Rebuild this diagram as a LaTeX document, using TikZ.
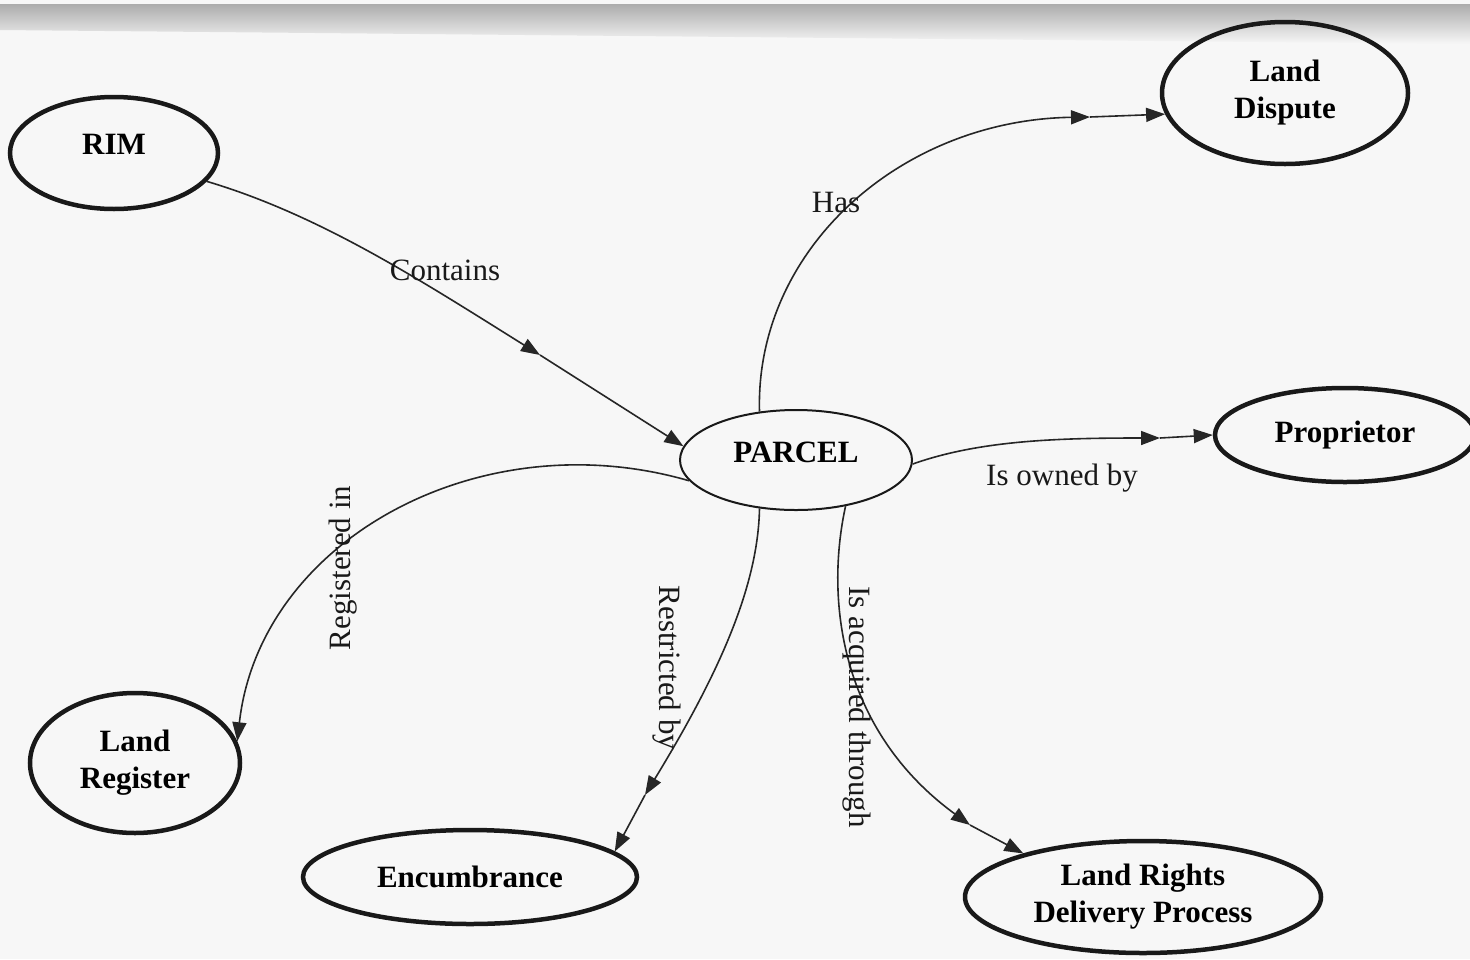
\documentclass[tikz,border=0pt]{standalone}
\usepackage{fontspec}
\setmainfont{Liberation Serif}
\usetikzlibrary{shapes.geometric,arrows.meta}

\begin{document}
\begin{tikzpicture}[x=1pt,y=-1pt,
  concept/.style={ellipse,draw=black!90,line width=4.5pt,inner sep=0pt,align=center,
    font=\fontsize{31}{37}\selectfont\bfseries,text=black},
  conn/.style={draw=black!85,line width=1.6pt,-{Triangle[length=19pt,width=14pt]}},
  lbl/.style={font=\fontsize{31}{37}\selectfont,text=black!90,inner sep=0pt}]
\useasboundingbox (0,0) rectangle (1470,959);
\fill[gray!6] (0,0) rectangle (1470,959);
% grey band along the top edge
\shade[top color=gray!65,bottom color=gray!6] (0,4) -- (1470,4) -- (1470,44) -- (0,30) -- cycle;

% concepts
\node[concept,minimum width=208pt,minimum height=112pt,text depth=18pt] (rim) at (114,153) {RIM};
\node[concept,minimum width=246pt,minimum height=142pt] (dispute) at (1285,93) {Land\\Dispute};
\node[concept,minimum width=260pt,minimum height=94pt] (prop) at (1345,435) {Proprietor};
\node[concept,line width=2pt,minimum width=232pt,minimum height=100pt,text depth=16pt] (parcel) at (796,460) {PARCEL};
\node[concept,minimum width=210pt,minimum height=140pt] (register) at (135,763) {Land\\Register};
\node[concept,minimum width=334pt,minimum height=94pt] (encumb) at (470,877) {Encumbrance};
\node[concept,minimum width=356pt,minimum height=112pt] (rights) at (1143,897) {Land Rights\\Delivery Process};

% points where the middle arrowheads sit
\coordinate (m1) at (540,355);
\coordinate (m2) at (1090,117);
\coordinate (m3) at (1160,438);
\coordinate (m5) at (645,795);
\coordinate (m6) at (970,825);

% relations
\draw[conn] (rim.-17) .. controls (320,215) and (420,280) .. (m1);
\draw[conn] (m1) -- (parcel.173);

\draw[conn] (parcel.127) .. controls (755,250) and (900,120) .. (m2);
\draw[conn] (m2) -- (dispute.190);

\draw[conn] (parcel.-2) .. controls (980,440) and (1060,438) .. (m3);
\draw[conn] (m3) -- (prop.west);

\draw[conn] (parcel.191) .. controls (480,420) and (260,540) .. (register.12);

\draw[conn] (parcel.233) .. controls (758,590) and (715,680) .. (m5);
\draw[conn] (m5) -- (encumb.10);

\draw[conn] (parcel.-43) .. controls (825,600) and (840,730) .. (m6);
\draw[conn] (m6) -- (rights.160);

% relation labels
\node[lbl] (lcont) at (445,270) {Contains};
\node[lbl] (lhas) at (836,202) {Has};
\node[lbl] (lown) at (1062,478) {Is owned by};
\node[lbl,rotate=90] (lreg) at (343,568) {Registered in};
\node[lbl,rotate=-90] (lrestr) at (667,668) {Restricted by};
\node[lbl,rotate=-90] (lacq) at (857,707) {Is acquired through};
\end{tikzpicture}
\end{document}
